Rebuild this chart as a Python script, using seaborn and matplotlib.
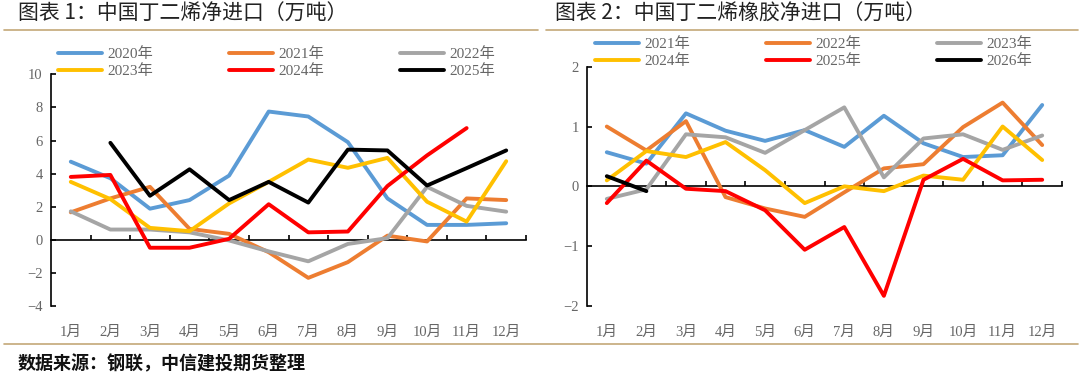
import numpy as np
import pandas as pd
import matplotlib
matplotlib.use('Agg')
import matplotlib.pyplot as plt
import seaborn as sns
from matplotlib.lines import Line2D

sns.set_theme(style='white')
plt.rcParams['font.family'] = ['Liberation Serif', 'Noto Sans CJK SC', 'DejaVu Sans']
plt.rcParams['axes.unicode_minus'] = True

months = ['1月', '2月', '3月', '4月', '5月', '6月', '7月', '8月', '9月', '10月', '11月', '12月']

# 图表1: 中国丁二烯净进口 (万吨)
years_1 = ['2020年', '2021年', '2022年', '2023年', '2024年', '2025年']
bd_2020 = [4.72, 3.72, 1.88, 2.40, 3.88, 7.75, 7.45, 5.90, 2.50, 0.90, 0.90, 1.00]
bd_2021 = [1.66, 2.50, 3.20, 0.66, 0.36, -0.75, -2.30, -1.35, 0.25, -0.10, 2.50, 2.40]
bd_2022 = [1.72, 0.62, 0.62, 0.45, -0.04, -0.70, -1.30, -0.25, 0.10, 3.20, 2.05, 1.70]
bd_2023 = [3.50, 2.46, 0.72, 0.52, 2.20, 3.50, 4.85, 4.35, 4.95, 2.30, 1.10, 4.75]
bd_2024 = [3.80, 3.92, -0.48, -0.48, 0.06, 2.15, 0.45, 0.50, 3.25, 5.10, 6.75, np.nan]
bd_2025 = [np.nan, 5.86, 2.66, 4.26, 2.40, 3.50, 2.25, 5.45, 5.40, 3.28, 4.33, 5.40]

# 图表2: 中国丁二烯橡胶净进口 (万吨)
years_2 = ['2021年', '2022年', '2023年', '2024年', '2025年', '2026年']
br_2021 = [0.57, 0.38, 1.22, 0.93, 0.76, 0.94, 0.66, 1.18, 0.72, 0.49, 0.52, 1.36]
br_2022 = [1.00, 0.60, 1.09, -0.18, -0.37, -0.51, -0.10, 0.30, 0.37, 0.99, 1.40, 0.69]
br_2023 = [-0.21, -0.05, 0.87, 0.82, 0.56, 0.94, 1.32, 0.15, 0.80, 0.87, 0.61, 0.85]
br_2024 = [0.10, 0.59, 0.49, 0.74, 0.27, -0.28, 0.00, -0.08, 0.18, 0.11, 1.00, 0.44]
br_2025 = [-0.28, 0.43, -0.04, -0.08, -0.40, -1.06, -0.68, -1.83, 0.11, 0.46, 0.10, 0.11]
br_2026 = [0.17, -0.08] + [np.nan] * 10

colors = ['#5B9BD5', '#ED7D31', '#A5A5A5', '#FFC000', '#FF0000', '#000000']
gold = '#C4A878'
txt_gray = '#666666'


def long_df(years, series):
    rows = []
    for y, vals in zip(years, series):
        for i, v in enumerate(vals):
            rows.append({'year': y, 'm': i, 'v': v})
    return pd.DataFrame(rows).dropna()


def draw(ax, df, years, ylim, yticks):
    sns.lineplot(data=df, x='m', y='v', hue='year', hue_order=years,
                 palette=colors, linewidth=2.8, legend=False, ax=ax, sort=False)
    ax.set_xlim(-0.5, 11.5)
    ax.set_ylim(*ylim)
    ax.set_yticks(yticks)
    ax.set_xticks(range(12))
    ax.set_xticklabels(months)
    ax.set_xlabel('')
    ax.set_ylabel('')
    for s in ['top', 'right', 'bottom']:
        ax.spines[s].set_visible(False)
    ax.spines['left'].set_color('black')
    ax.spines['left'].set_linewidth(1.2)
    ax.tick_params(axis='x', length=0, pad=14, labelsize=10.5, labelcolor=txt_gray)
    ax.tick_params(axis='y', direction='in', length=3.5, width=1.2, color='black',
                   left=True, pad=6, labelsize=10.5, labelcolor=txt_gray)
    # zero line with category boundary ticks
    sec = ax.secondary_xaxis(0, transform=ax.transData)
    sec.set_xticks(np.arange(0.5, 12, 1))
    sec.tick_params(direction='in', length=3.5, width=1.2, color='black', labelbottom=False)
    sec.spines['bottom'].set_color('black')
    sec.spines['bottom'].set_linewidth(1.2)
    lines = ax.get_lines()[:len(years)]
    order = [0, 3, 1, 4, 2, 5]
    return [lines[i] for i in order], [years[i] for i in order]


fig = plt.figure(figsize=(10.8, 3.78), dpi=100)
W, H = 1080, 378

ax1 = fig.add_axes([51 / W, 1 - 306 / H, 475 / W, 231.7 / H])
h1, l1 = draw(ax1, long_df(years_1, [bd_2020, bd_2021, bd_2022, bd_2023, bd_2024, bd_2025]),
              years_1, (-4, 10), range(-4, 11, 2))

ax2 = fig.add_axes([587 / W, 1 - 306 / H, 475 / W, 239.3 / H])
h2, l2 = draw(ax2, long_df(years_2, [br_2021, br_2022, br_2023, br_2024, br_2025, br_2026]),
              years_2, (-2, 2), range(-2, 3, 1))

leg_kw = dict(ncol=3, frameon=False, fontsize=11, handlelength=2.85, handletextpad=0.35,
              columnspacing=5.0, labelspacing=0.2, borderpad=0, borderaxespad=0,
              loc='upper left', bbox_transform=fig.transFigure, labelcolor=txt_gray)
fig.legend(h1, l1, bbox_to_anchor=(58 / W, 1 - 47 / H), **leg_kw)
fig.legend(h2, l2, bbox_to_anchor=(595 / W, 1 - 37 / H), **leg_kw)

# titles, rules and source
title_font = ['Noto Sans CJK SC', 'DejaVu Sans']
fig.text(18 / W, 1 - 13.5 / H, '图表 1：中国丁二烯净进口（万吨）', fontsize=15,
         family=title_font, color='#222222', va='center', ha='left')
fig.text(555 / W, 1 - 13.5 / H, '图表 2：中国丁二烯橡胶净进口（万吨）', fontsize=15,
         family=title_font, color='#222222', va='center', ha='left')
fig.add_artist(Line2D([4 / W, 538 / W], [1 - 30 / H, 1 - 30 / H], color=gold, lw=1.2))
fig.add_artist(Line2D([546 / W, 1078 / W], [1 - 30 / H, 1 - 30 / H], color=gold, lw=1.2))
fig.add_artist(Line2D([4 / W, 1078 / W], [1 - 344 / H, 1 - 344 / H], color=gold, lw=1.2))
fig.text(18 / W, 1 - 364 / H, '数据来源：钢联，中信建投期货整理', fontsize=13,
         family=title_font, fontweight='bold', color='#111111', va='center', ha='left')

fig.savefig('out.png', dpi=100)
